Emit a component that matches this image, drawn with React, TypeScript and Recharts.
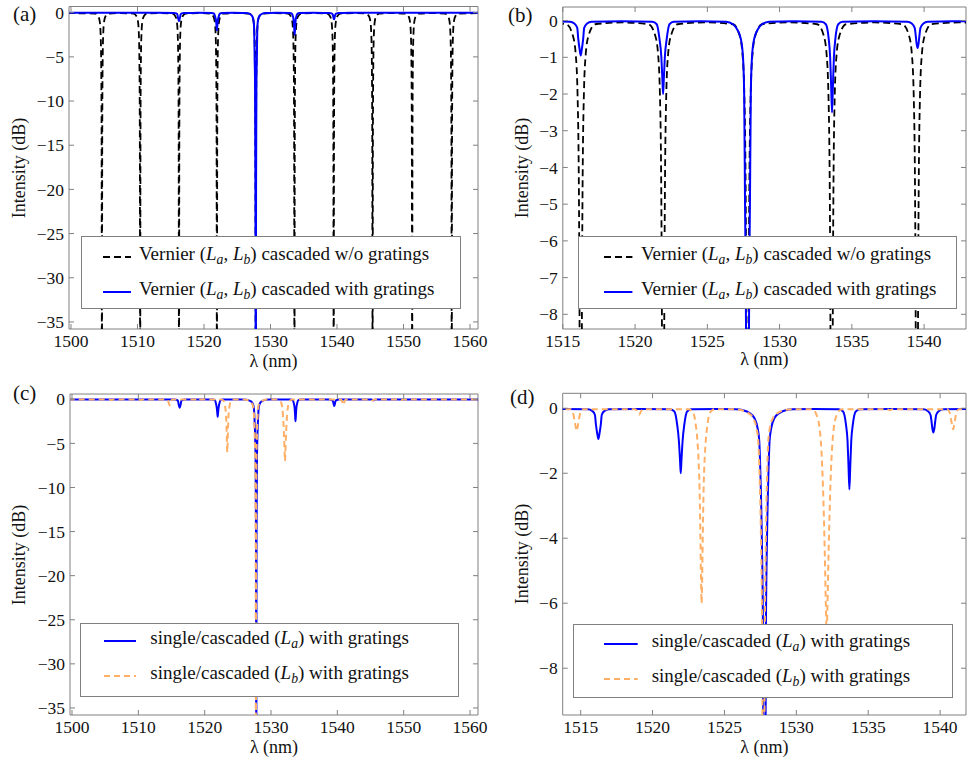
import React from 'react';
import { LineChart, Line, XAxis, YAxis, ReferenceArea } from 'recharts';

const FONT = '"Liberation Serif", "DejaVu Serif", serif';
const FRAME = '#808080';
const INK = '#111';
const BLUE = '#0000ff';
const ORANGE = '#ffb066';

type Pt = [number, number];

// wavelength (nm), intensity (dB)
const vernierNoGratings: Pt[] = [
  [1499.5, -0.05],
  [1503.65, -0.1], [1504.1, -0.4], [1504.3, -0.9], [1504.43, -2], [1504.53, -5], [1504.6, -14], [1504.65, -45],
  [1504.7, -14], [1504.77, -5], [1504.87, -2], [1505.0, -0.9], [1505.2, -0.4], [1505.65, -0.1],
  [1507.5, -0.05],
  [1509.4, -0.1], [1509.85, -0.4], [1510.05, -0.9], [1510.18, -2], [1510.28, -5], [1510.35, -14], [1510.4, -45],
  [1510.45, -14], [1510.52, -5], [1510.62, -2], [1510.75, -0.9], [1510.95, -0.4], [1511.4, -0.1],
  [1513.3, -0.05],
  [1515.24, -0.1], [1515.69, -0.4], [1515.89, -0.9], [1516.02, -2], [1516.12, -5], [1516.19, -14], [1516.24, -45],
  [1516.29, -14], [1516.36, -5], [1516.46, -2], [1516.59, -0.9], [1516.79, -0.4], [1517.24, -0.1],
  [1519.1, -0.05],
  [1520.94, -0.1], [1521.39, -0.4], [1521.59, -0.9], [1521.72, -2], [1521.82, -5], [1521.89, -14], [1521.94, -45],
  [1521.99, -14], [1522.06, -5], [1522.16, -2], [1522.29, -0.9], [1522.49, -0.4], [1522.94, -0.1],
  [1524.85, -0.05],
  [1526.78, -0.1], [1527.23, -0.4], [1527.43, -0.9], [1527.56, -2], [1527.66, -5], [1527.73, -14], [1527.78, -45],
  [1527.83, -14], [1527.9, -5], [1528.0, -2], [1528.13, -0.9], [1528.33, -0.4], [1528.78, -0.1],
  [1530.7, -0.05],
  [1532.6, -0.1], [1533.05, -0.4], [1533.25, -0.9], [1533.38, -2], [1533.48, -5], [1533.55, -14], [1533.6, -45],
  [1533.65, -14], [1533.72, -5], [1533.82, -2], [1533.95, -0.9], [1534.15, -0.4], [1534.6, -0.1],
  [1536.55, -0.05],
  [1538.5, -0.1], [1538.95, -0.4], [1539.15, -0.9], [1539.28, -2], [1539.38, -5], [1539.45, -14], [1539.5, -45],
  [1539.55, -14], [1539.62, -5], [1539.72, -2], [1539.85, -0.9], [1540.05, -0.4], [1540.5, -0.1],
  [1542.4, -0.05],
  [1544.35, -0.1], [1544.8, -0.4], [1545.0, -0.9], [1545.13, -2], [1545.23, -5], [1545.3, -14], [1545.35, -45],
  [1545.4, -14], [1545.47, -5], [1545.57, -2], [1545.7, -0.9], [1545.9, -0.4], [1546.35, -0.1],
  [1548.3, -0.05],
  [1550.3, -0.1], [1550.75, -0.4], [1550.95, -0.9], [1551.08, -2], [1551.18, -5], [1551.25, -14], [1551.3, -45],
  [1551.35, -14], [1551.42, -5], [1551.52, -2], [1551.65, -0.9], [1551.85, -0.4], [1552.3, -0.1],
  [1554.3, -0.05],
  [1556.25, -0.1], [1556.7, -0.4], [1556.9, -0.9], [1557.03, -2], [1557.13, -5], [1557.2, -14], [1557.25, -45],
  [1557.3, -14], [1557.37, -5], [1557.47, -2], [1557.6, -0.9], [1557.8, -0.4], [1558.25, -0.1],
  [1561.5, -0.05],
];

const vernierWithGratings: Pt[] = [
  [1499.5, -0.02], [1513, -0.02],
  [1515.5, -0.03], [1515.8, -0.08], [1516.0, -0.2], [1516.07, -0.5], [1516.17, -0.8], [1516.24, -0.95],
  [1516.31, -0.8], [1516.41, -0.5], [1516.48, -0.2], [1516.68, -0.08], [1516.98, -0.03],
  [1519.1, -0.02],
  [1521.2, -0.03], [1521.5, -0.1], [1521.69, -0.5], [1521.82, -1.0], [1521.89, -1.6], [1521.94, -2.0],
  [1521.99, -1.6], [1522.06, -1.0], [1522.19, -0.5], [1522.38, -0.1], [1522.68, -0.03],
  [1524.5, -0.02],
  [1526.3, -0.03], [1526.78, -0.1], [1527.08, -0.25], [1527.32, -0.5], [1527.47, -1.0], [1527.55, -2.0],
  [1527.61, -5], [1527.68, -8.5], [1527.73, -20], [1527.78, -45], [1527.83, -20], [1527.88, -8.5],
  [1527.95, -5], [1528.01, -2.0], [1528.09, -1.0], [1528.24, -0.5], [1528.48, -0.25], [1528.78, -0.1], [1529.26, -0.03],
  [1531.0, -0.02],
  [1532.9, -0.03], [1533.2, -0.1], [1533.4, -0.5], [1533.5, -1.0], [1533.57, -1.8], [1533.63, -2.5],
  [1533.69, -1.8], [1533.76, -1.0], [1533.86, -0.5], [1534.06, -0.1], [1534.36, -0.03],
  [1536.5, -0.02],
  [1538.85, -0.03], [1539.15, -0.08], [1539.35, -0.2], [1539.42, -0.4], [1539.49, -0.65], [1539.55, -0.75],
  [1539.61, -0.65], [1539.68, -0.4], [1539.75, -0.2], [1539.95, -0.08], [1540.25, -0.03],
  [1542, -0.02], [1561.5, -0.02],
];

const singleLa: Pt[] = [
  [1499.5, -0.02], [1513, -0.02],
  [1515.5, -0.03], [1515.8, -0.08], [1515.99, -0.2], [1516.06, -0.5], [1516.16, -0.8], [1516.23, -0.95],
  [1516.3, -0.8], [1516.4, -0.5], [1516.47, -0.2], [1516.66, -0.08], [1516.96, -0.03],
  [1519.1, -0.02],
  [1521.22, -0.03], [1521.52, -0.1], [1521.71, -0.5], [1521.83, -1.0], [1521.91, -1.6], [1521.96, -2.0],
  [1522.01, -1.6], [1522.09, -1.0], [1522.21, -0.5], [1522.4, -0.1], [1522.7, -0.03],
  [1524.6, -0.02],
  [1525.8, -0.03], [1526.3, -0.06], [1526.75, -0.15], [1527.08, -0.3], [1527.3, -0.6], [1527.42, -1.0],
  [1527.5, -2.0], [1527.6, -4.0], [1527.68, -7], [1527.74, -16], [1527.78, -45], [1527.82, -16],
  [1527.88, -7], [1527.96, -4.0], [1528.06, -2.0], [1528.14, -1.0], [1528.26, -0.6], [1528.48, -0.3],
  [1528.81, -0.15], [1529.26, -0.06], [1529.76, -0.03],
  [1531.2, -0.02],
  [1532.95, -0.03], [1533.25, -0.1], [1533.45, -0.5], [1533.56, -1.0], [1533.63, -1.8], [1533.69, -2.5],
  [1533.75, -1.8], [1533.82, -1.0], [1533.93, -0.5], [1534.13, -0.1], [1534.43, -0.03],
  [1536.6, -0.02],
  [1538.83, -0.03], [1539.13, -0.08], [1539.33, -0.2], [1539.4, -0.4], [1539.47, -0.65], [1539.53, -0.75],
  [1539.59, -0.65], [1539.66, -0.4], [1539.73, -0.2], [1539.93, -0.08], [1540.23, -0.03],
  [1543, -0.02],
  [1545.2, -0.03], [1545.45, -0.12], [1545.7, -0.03],
  [1561.5, -0.02],
];

const singleLb: Pt[] = [
  [1499.5, -0.03],
  [1505.7, -0.03], [1505.95, -0.08], [1506.2, -0.03],
  [1510.15, -0.03], [1510.35, -0.1], [1510.55, -0.03],
  [1514.3, -0.03], [1514.5, -0.2], [1514.6, -0.45], [1514.67, -0.62], [1514.72, -0.7],
  [1514.77, -0.62], [1514.84, -0.45], [1514.94, -0.2], [1515.14, -0.03],
  [1518.77, -0.03], [1518.95, -0.1], [1519.07, -0.2], [1519.19, -0.1], [1519.37, -0.03],
  [1522.5, -0.03], [1522.72, -0.08], [1522.88, -0.2], [1523.0, -0.5], [1523.12, -1.0], [1523.2, -1.6],
  [1523.27, -2.5], [1523.33, -4.0], [1523.38, -5.5], [1523.41, -6.0], [1523.44, -5.5], [1523.49, -4.0],
  [1523.55, -2.5], [1523.62, -1.6], [1523.7, -1.0], [1523.82, -0.5], [1523.94, -0.2], [1524.1, -0.08], [1524.32, -0.03],
  [1525.7, -0.03], [1526.2, -0.06], [1526.66, -0.15], [1526.99, -0.3], [1527.22, -0.6], [1527.35, -1.0],
  [1527.44, -2.0], [1527.54, -4.0], [1527.62, -7], [1527.68, -16], [1527.72, -45], [1527.76, -16],
  [1527.81, -7], [1527.88, -4.0], [1527.97, -2.0], [1528.05, -1.0], [1528.16, -0.6], [1528.38, -0.3],
  [1528.7, -0.15], [1529.15, -0.06], [1529.65, -0.03],
  [1531.0, -0.03], [1531.25, -0.08], [1531.4, -0.2], [1531.58, -0.5], [1531.7, -1.0], [1531.78, -1.6],
  [1531.88, -2.8], [1531.98, -4.5], [1532.06, -6.2], [1532.11, -7.0], [1532.16, -6.2], [1532.24, -4.5],
  [1532.34, -2.8], [1532.44, -1.6], [1532.52, -1.0], [1532.64, -0.5], [1532.82, -0.2], [1532.97, -0.08], [1533.2, -0.03],
  [1536.3, -0.03], [1536.5, -0.06], [1536.7, -0.03],
  [1540.5, -0.03], [1540.7, -0.2], [1540.79, -0.42], [1540.85, -0.58], [1540.9, -0.65],
  [1540.95, -0.58], [1541.01, -0.42], [1541.1, -0.2], [1541.3, -0.03],
  [1545.05, -0.03], [1545.3, -0.15], [1545.55, -0.03],
  [1549.5, -0.03], [1549.7, -0.07], [1549.9, -0.03],
  [1561.5, -0.03],
];

const wideXTicks = [1500, 1510, 1520, 1530, 1540, 1550, 1560];
const zoomXTicks = [1515, 1520, 1525, 1530, 1535, 1540];
const wideYTicks = [0, -5, -10, -15, -20, -25, -30, -35];
const zoomYTicksB = [0, -1, -2, -3, -4, -5, -6, -7, -8];
const zoomYTicksD = [0, -2, -4, -6, -8];

const toRows = (pts: Pt[]) => pts.map(([x, y]) => ({ x, y }));
const fmt = (v: number) => (v < 0 ? '\u2212' + Math.abs(v) : String(v));

type Series = { rows: { x: number; y: number }[]; color: string; dash?: string; width: number };

const La = () => (<><i>L</i><sub style={{ fontSize: '0.72em', fontStyle: 'italic' }}>a</sub></>);
const Lb = () => (<><i>L</i><sub style={{ fontSize: '0.72em', fontStyle: 'italic' }}>b</sub></>);

type LegendItem = { color: string; dash?: string; label: React.ReactNode };

function Panel(props: {
  left: number; top: number; w: number; h: number;
  plot: { l: number; r: number; t: number; b: number };
  xDomain: [number, number]; xTicks: number[];
  yDomain: [number, number]; yTicks: number[];
  series: Series[];
  tag: string; tagX: number; tagY: number;
  yLabelX: number; xLabelY: number;
  legend: { l: number; t: number; w: number; h: number; lineX: number[]; textX: number; rows: number[]; items: LegendItem[] };
}) {
  const { left, top, w, h, plot, xDomain, yDomain } = props;
  const xTick = (p: any) => (
    <g>
      <line x1={p.x} x2={p.x} y1={plot.b} y2={plot.b - 5} stroke={FRAME} />
      <line x1={p.x} x2={p.x} y1={plot.t} y2={plot.t + 5} stroke={FRAME} />
      <text x={p.x} y={plot.b + 18} textAnchor="middle" fontSize={17.5} fontFamily={FONT} fill={INK}>
        {p.payload.value}
      </text>
    </g>
  );
  const yTick = (p: any) => (
    <g>
      <line x1={plot.l} x2={plot.l + 5} y1={p.y} y2={p.y} stroke={FRAME} />
      <line x1={plot.r} x2={plot.r - 5} y1={p.y} y2={p.y} stroke={FRAME} />
      <text x={plot.l - 5} y={p.y} dy="0.35em" textAnchor="end" fontSize={17.5} fontFamily={FONT} fill={INK}>
        {fmt(p.payload.value)}
      </text>
    </g>
  );
  const lg = props.legend;
  return (
    <div style={{ position: 'absolute', left, top, width: w, height: h }}>
      <LineChart
        width={w}
        height={h}
        margin={{ top: plot.t, right: w - plot.r, bottom: h - plot.b - 30, left: plot.l - 40 }}
        style={{ overflow: 'visible' }}
      >
        <XAxis dataKey="x" type="number" domain={xDomain} ticks={props.xTicks} allowDataOverflow
          axisLine={false} tickLine={false} tick={xTick} height={30} interval={0} />
        <YAxis type="number" domain={yDomain} ticks={props.yTicks} allowDataOverflow
          axisLine={false} tickLine={false} tick={yTick} width={40} interval={0} />
        {props.series.map((s, i) => (
          <Line key={i} data={s.rows} dataKey="y" type="monotone" stroke={s.color} strokeWidth={s.width}
            strokeDasharray={s.dash} dot={false} activeDot={false} isAnimationActive={false} />
        ))}
        <ReferenceArea x1={xDomain[0]} x2={xDomain[1]} y1={yDomain[0]} y2={yDomain[1]}
          fill="none" fillOpacity={0} stroke={FRAME} strokeWidth={1} />
      </LineChart>
      <div style={{ position: 'absolute', left: props.tagX, top: props.tagY, transform: 'translateY(-50%)',
        fontFamily: FONT, fontSize: 21, color: INK }}>{props.tag}</div>
      <div style={{ position: 'absolute', left: props.yLabelX, top: (plot.t + plot.b) / 2,
        transform: 'translate(-50%, -50%) rotate(-90deg)', whiteSpace: 'nowrap',
        fontFamily: FONT, fontSize: 18, color: INK }}>Intensity (dB)</div>
      <div style={{ position: 'absolute', left: (plot.l + plot.r) / 2, top: props.xLabelY,
        transform: 'translate(-50%, -50%)', whiteSpace: 'nowrap', lineHeight: 1,
        fontFamily: FONT, fontSize: 18, color: INK }}>λ (nm)</div>
      <div style={{ position: 'absolute', left: lg.l, top: lg.t, width: lg.w, height: lg.h,
        border: `1px solid ${FRAME}`, background: '#fff', boxSizing: 'border-box' }}>
        {lg.items.map((it, i) => (
          <div key={i}>
            <svg style={{ position: 'absolute', left: lg.lineX[0] - lg.l, top: lg.rows[i] - lg.t - 2 }}
              width={lg.lineX[1] - lg.lineX[0]} height={4}>
              <line x1={0} x2={lg.lineX[1] - lg.lineX[0]} y1={2} y2={2} stroke={it.color} strokeWidth={2}
                strokeDasharray={it.dash} />
            </svg>
            <div style={{ position: 'absolute', left: lg.textX - lg.l, top: lg.rows[i] - lg.t,
              transform: 'translateY(-50%)', whiteSpace: 'nowrap', fontFamily: FONT, fontSize: 19,
              color: INK, lineHeight: '22px' }}>{it.label}</div>
          </div>
        ))}
      </div>
    </div>
  );
}

export default function App() {
  const vPlain = toRows(vernierNoGratings);
  const vGrat = toRows(vernierWithGratings);
  const sA = toRows(singleLa);
  const sB = toRows(singleLb);
  const topLegend: LegendItem[] = [
    { color: '#000', dash: '7 4', label: <>Vernier (<La />, <Lb />) cascaded w/o gratings</> },
    { color: BLUE, label: <>Vernier (<La />, <Lb />) cascaded with gratings</> },
  ];
  const bottomLegend: LegendItem[] = [
    { color: BLUE, label: <>single/cascaded (<La />) with gratings</> },
    { color: ORANGE, dash: '6 4', label: <>single/cascaded (<Lb />) with gratings</> },
  ];
  const topSeries: Series[] = [
    { rows: vPlain, color: '#000', dash: '7 4', width: 1.8 },
    { rows: vGrat, color: BLUE, width: 2 },
  ];
  const bottomSeries: Series[] = [
    { rows: sA, color: BLUE, width: 2 },
    { rows: sB, color: ORANGE, dash: '6 4', width: 2 },
  ];
  return (
    <div style={{ position: 'absolute', left: 0, top: 0, width: 967, height: 762, background: '#fff', overflow: 'hidden' }}>
      <Panel left={0} top={0} w={492} h={380} plot={{ l: 69, r: 478, t: 6.5, b: 329 }}
        xDomain={[1499.7, 1561.2]} xTicks={wideXTicks} yDomain={[-35.8, 0.7]} yTicks={wideYTicks}
        series={topSeries} tag="(a)" tagX={13} tagY={14} yLabelX={19} xLabelY={361}
        legend={{ l: 81, t: 236, w: 380, h: 73, lineX: [101.7, 130], textX: 138, rows: [255.7, 290.7], items: topLegend }} />
      <Panel left={485} top={0} w={482} h={380} plot={{ l: 77.8, r: 481, t: 7, b: 329 }}
        xDomain={[1515, 1542.9]} xTicks={zoomXTicks} yDomain={[-8.4, 0.37]} yTicks={zoomYTicksB}
        series={topSeries} tag="(b)" tagX={23} tagY={15} yLabelX={37} xLabelY={359}
        legend={{ l: 92.7, t: 236, w: 379, h: 73, lineX: [118.3, 146.7], textX: 155, rows: [255.7, 290.7], items: topLegend }} />
      <Panel left={0} top={380} w={492} h={382} plot={{ l: 70, r: 478, t: 14, b: 335 }}
        xDomain={[1499.7, 1561.2]} xTicks={wideXTicks} yDomain={[-35.8, 0.6]} yTicks={wideYTicks}
        series={bottomSeries} tag="(c)" tagX={13} tagY={13} yLabelX={19} xLabelY={367}
        legend={{ l: 80, t: 242.7, w: 379.3, h: 74, lineX: [102.7, 135], textX: 149.3, rows: [260, 295], items: bottomLegend }} />
      <Panel left={485} top={380} w={482} h={382} plot={{ l: 77.7, r: 481, t: 13.3, b: 335 }}
        xDomain={[1513.75, 1541.8]} xTicks={zoomXTicks} yDomain={[-9.44, 0.46]} yTicks={zoomYTicksD}
        series={bottomSeries} tag="(d)" tagX={25} tagY={17} yLabelX={37} xLabelY={367}
        legend={{ l: 88.3, t: 244, w: 380, h: 73.7, lineX: [118, 151.7], textX: 165.7, rows: [263.3, 297.7], items: bottomLegend }} />
    </div>
  );
}
